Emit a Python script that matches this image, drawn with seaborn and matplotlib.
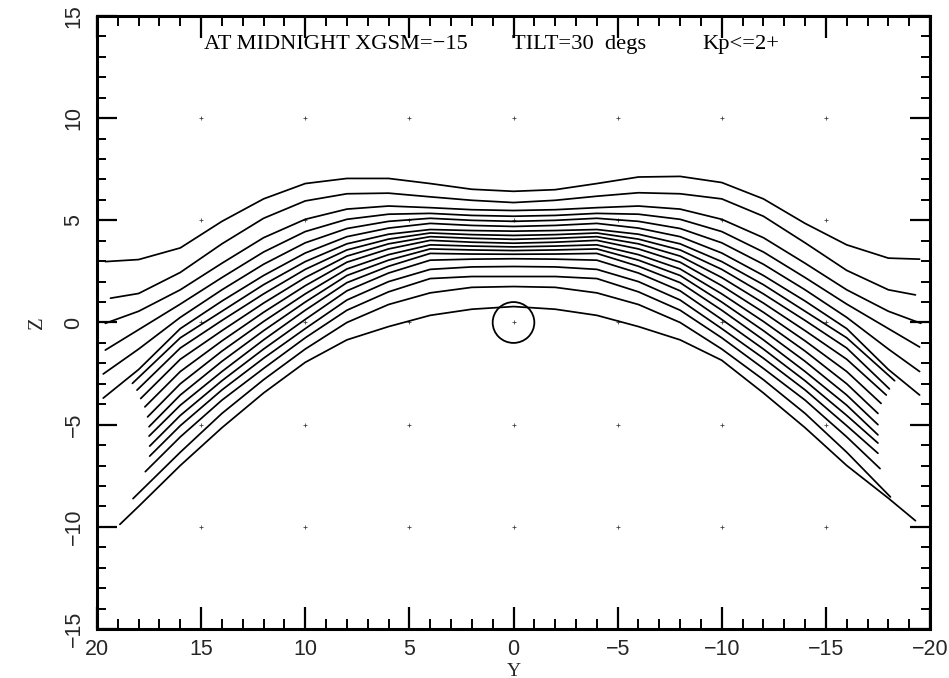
import numpy as np
import pandas as pd
import matplotlib
matplotlib.use("Agg")
import matplotlib.pyplot as plt
import seaborn as sns
from matplotlib.patches import Circle
from matplotlib.ticker import MultipleLocator

# ---- data: 18 traced lines, Z read at fixed Y columns ----
Y_COLS = [16, 14, 12, 10, 8, 6, 4, 2, 0, -2, -4, -6, -8, -10, -12, -14, -16]

Z_P16 = [3.65, 2.45, 1.6, 0.9, 0.25, -0.3, -0.75, -1.25, -1.8, -2.4, -3.0, -3.55, -4.05, -4.55, -5.05, -5.6, -6.35, -7.0]
Z_P14 = [4.95, 3.85, 2.9, 2.2, 1.6, 1.05, 0.55, 0.1, -0.4, -0.9, -1.4, -1.9, -2.4, -2.85, -3.3, -3.8, -4.45, -5.15]
Z_P12 = [6.05, 5.1, 4.15, 3.45, 2.85, 2.3, 1.85, 1.4, 0.95, 0.5, 0.05, -0.4, -0.85, -1.3, -1.75, -2.25, -2.8, -3.45]
Z_P10 = [6.8, 5.95, 5.05, 4.45, 3.9, 3.4, 2.98, 2.6, 2.2, 1.8, 1.4, 1.0, 0.6, 0.15, -0.3, -0.75, -1.3, -1.95]
Z_P8 = [7.05, 6.3, 5.55, 5.05, 4.6, 4.2, 3.85, 3.55, 3.25, 2.95, 2.62, 2.3, 1.95, 1.55, 1.1, 0.6, 0.0, -0.85]
Z_P6 = [7.05, 6.33, 5.7, 5.3, 4.95, 4.62, 4.32, 4.08, 3.85, 3.6, 3.32, 3.05, 2.75, 2.42, 2.0, 1.5, 0.88, -0.2]
Z_P4 = [6.8, 6.15, 5.62, 5.34, 5.1, 4.85, 4.55, 4.38, 4.2, 4.02, 3.8, 3.6, 3.38, 3.05, 2.6, 2.15, 1.45, 0.35]
Z_P2 = [6.52, 5.98, 5.52, 5.24, 5.0, 4.75, 4.5, 4.3, 4.12, 3.93, 3.74, 3.55, 3.35, 3.1, 2.72, 2.25, 1.72, 0.65]
Z_0 = [6.42, 5.87, 5.48, 5.2, 4.95, 4.7, 4.47, 4.26, 4.07, 3.88, 3.7, 3.52, 3.34, 3.12, 2.74, 2.25, 1.76, 0.78]
Z_M2 = [6.5, 5.98, 5.52, 5.24, 5.0, 4.75, 4.5, 4.3, 4.12, 3.93, 3.74, 3.55, 3.35, 3.1, 2.72, 2.25, 1.72, 0.65]
Z_M4 = [6.8, 6.18, 5.62, 5.34, 5.1, 4.85, 4.55, 4.38, 4.2, 4.02, 3.8, 3.6, 3.38, 3.05, 2.6, 2.15, 1.45, 0.35]
Z_M6 = [7.12, 6.35, 5.7, 5.3, 4.95, 4.62, 4.32, 4.08, 3.85, 3.6, 3.32, 3.05, 2.75, 2.42, 2.0, 1.5, 0.88, -0.2]
Z_M8 = [7.15, 6.3, 5.55, 5.05, 4.6, 4.2, 3.85, 3.55, 3.25, 2.95, 2.62, 2.3, 1.95, 1.55, 1.1, 0.6, 0.0, -0.85]
Z_M10 = [6.85, 6.05, 5.05, 4.45, 3.9, 3.4, 2.98, 2.6, 2.2, 1.8, 1.4, 1.0, 0.6, 0.15, -0.3, -0.75, -1.3, -1.85]
Z_M12 = [6.05, 5.2, 4.15, 3.45, 2.85, 2.3, 1.85, 1.4, 0.95, 0.5, 0.05, -0.4, -0.85, -1.3, -1.75, -2.25, -2.8, -3.45]
Z_M14 = [4.85, 3.9, 2.9, 2.2, 1.6, 1.05, 0.55, 0.1, -0.4, -0.9, -1.4, -1.9, -2.4, -2.85, -3.3, -3.8, -4.45, -5.15]
Z_M16 = [3.8, 2.55, 1.6, 0.9, 0.25, -0.3, -0.75, -1.25, -1.8, -2.4, -3.0, -3.55, -4.05, -4.55, -5.05, -5.6, -6.35, -7.0]

Z_P18 = [3.08, 1.42, 0.55, -0.35, -1.3, -2.3, None, None, None, None, None, None, None, None, None, None, -8.35, -9.0]
Z_M18 = [3.15, 1.6, 0.55, -0.3, -1.3, -2.3, None, None, None, None, None, None, None, None, None, None, None, -8.6]

START_Y = [19.6, 19.35, 19.6, 19.6, 19.7, 19.7, 18.3, 18.08, 17.9, 17.7, 17.57, 17.5, 17.5, 17.47, 17.47, 17.68, 18.27, 18.9]
START_Z = [2.98, 1.19, -0.04, -1.35, -2.52, -3.7, -2.98, -3.31, -3.72, -4.13, -4.62, -5.1, -5.56, -6.05, -6.54, -7.3, -8.62, -9.88]
END_Y = [-19.5, -19.3, -19.56, -19.5, -19.5, -19.5, -18.3, -18.05, -17.9, -17.65, -17.5, -17.5, -17.5, -17.5, -17.5, -17.6, -18.1, -19.3]
END_Z = [3.1, 1.35, -0.04, -1.2, -2.4, -3.55, -2.85, -3.25, -3.55, -3.96, -4.45, -5.0, -5.5, -5.9, -6.4, -7.15, -8.54, -9.7]

GRID_Y = [15, 10, 5, 0, -5, -10, -15]
GRID_Z = [10, 5, 0, -5, -10]

TITLE_PARTS = ["AT MIDNIGHT XGSM=\u221215", "TILT=30  degs", "Kp<=2+"]
TITLE_Y = [14.86, 0.07, -9.07]
TITLE_Z = 13.6

# ---- build long table ----
COL_TABLE = [Z_P16, Z_P14, Z_P12, Z_P10, Z_P8, Z_P6, Z_P4, Z_P2, Z_0,
             Z_M2, Z_M4, Z_M6, Z_M8, Z_M10, Z_M12, Z_M14, Z_M16]
rows = []
for i in range(len(START_Y)):
    pts = [(START_Y[i], START_Z[i])]
    if Z_P18[i] is not None:
        pts.append((18, Z_P18[i]))
    for yc, col in zip(Y_COLS, COL_TABLE):
        pts.append((yc, col[i]))
    if Z_M18[i] is not None:
        pts.append((-18, Z_M18[i]))
    pts.append((END_Y[i], END_Z[i]))
    for k, (yy, zz) in enumerate(pts):
        rows.append({"curve": i, "order": k, "Y": yy, "Z": zz})
df = pd.DataFrame(rows)

gy, gz = np.meshgrid(GRID_Y, GRID_Z)
grid_df = pd.DataFrame({"Y": gy.ravel(), "Z": gz.ravel()})

# ---- figure ----
sns.set_theme(style="white")
plt.rcParams["font.family"] = ["Liberation Sans", "DejaVu Sans"]
fig = plt.figure(figsize=(9.49, 6.78), dpi=100)
ax = fig.add_axes([0.1022, 0.0723, 0.8778, 0.9041])

sns.lineplot(data=df, x="Y", y="Z", units="curve", estimator=None, sort=False,
             color="black", linewidth=1.25, legend=False, ax=ax)
sns.scatterplot(data=grid_df, x="Y", y="Z", marker="+", s=12, color="#444444",
                linewidth=0.6, legend=False, ax=ax)
ax.add_patch(Circle((0, 0), 1.0, fill=False, edgecolor="black", linewidth=1.3))

ax.set_xlim(20, -20)
ax.set_ylim(-15, 15)
ax.xaxis.set_major_locator(MultipleLocator(5))
ax.xaxis.set_minor_locator(MultipleLocator(1))
ax.yaxis.set_major_locator(MultipleLocator(5))
ax.yaxis.set_minor_locator(MultipleLocator(1))
ax.tick_params(which="both", direction="in", top=True, right=True, bottom=True, left=True,
               color="black")
ax.tick_params(which="major", width=1.6, labelsize=15.5)
ax.tick_params(axis="x", which="major", length=16, pad=7)
ax.tick_params(axis="y", which="major", length=14.5, pad=9)
ax.tick_params(axis="x", which="minor", length=7.5, width=1.4)
ax.tick_params(axis="y", which="minor", length=6.5, width=1.4)
for lab in ax.get_yticklabels():
    lab.set_rotation(90)
    lab.set_va("center")
for sp in ax.spines.values():
    sp.set_linewidth(2.2)
    sp.set_color("black")

ax.set_xlabel("Y", family="Liberation Serif", fontsize=14)
ax.xaxis.set_label_coords(0.5, -0.069)
ax.xaxis.label.set_va("center")
ax.set_ylabel("Z", family="Liberation Serif", fontsize=15, labelpad=12)

for txt, yy in zip(TITLE_PARTS, TITLE_Y):
    ax.text(yy, TITLE_Z, txt, family="Liberation Serif", fontsize=16.2,
            ha="left", va="center", color="black")

fig.savefig("out.png", dpi=100, facecolor="white")
